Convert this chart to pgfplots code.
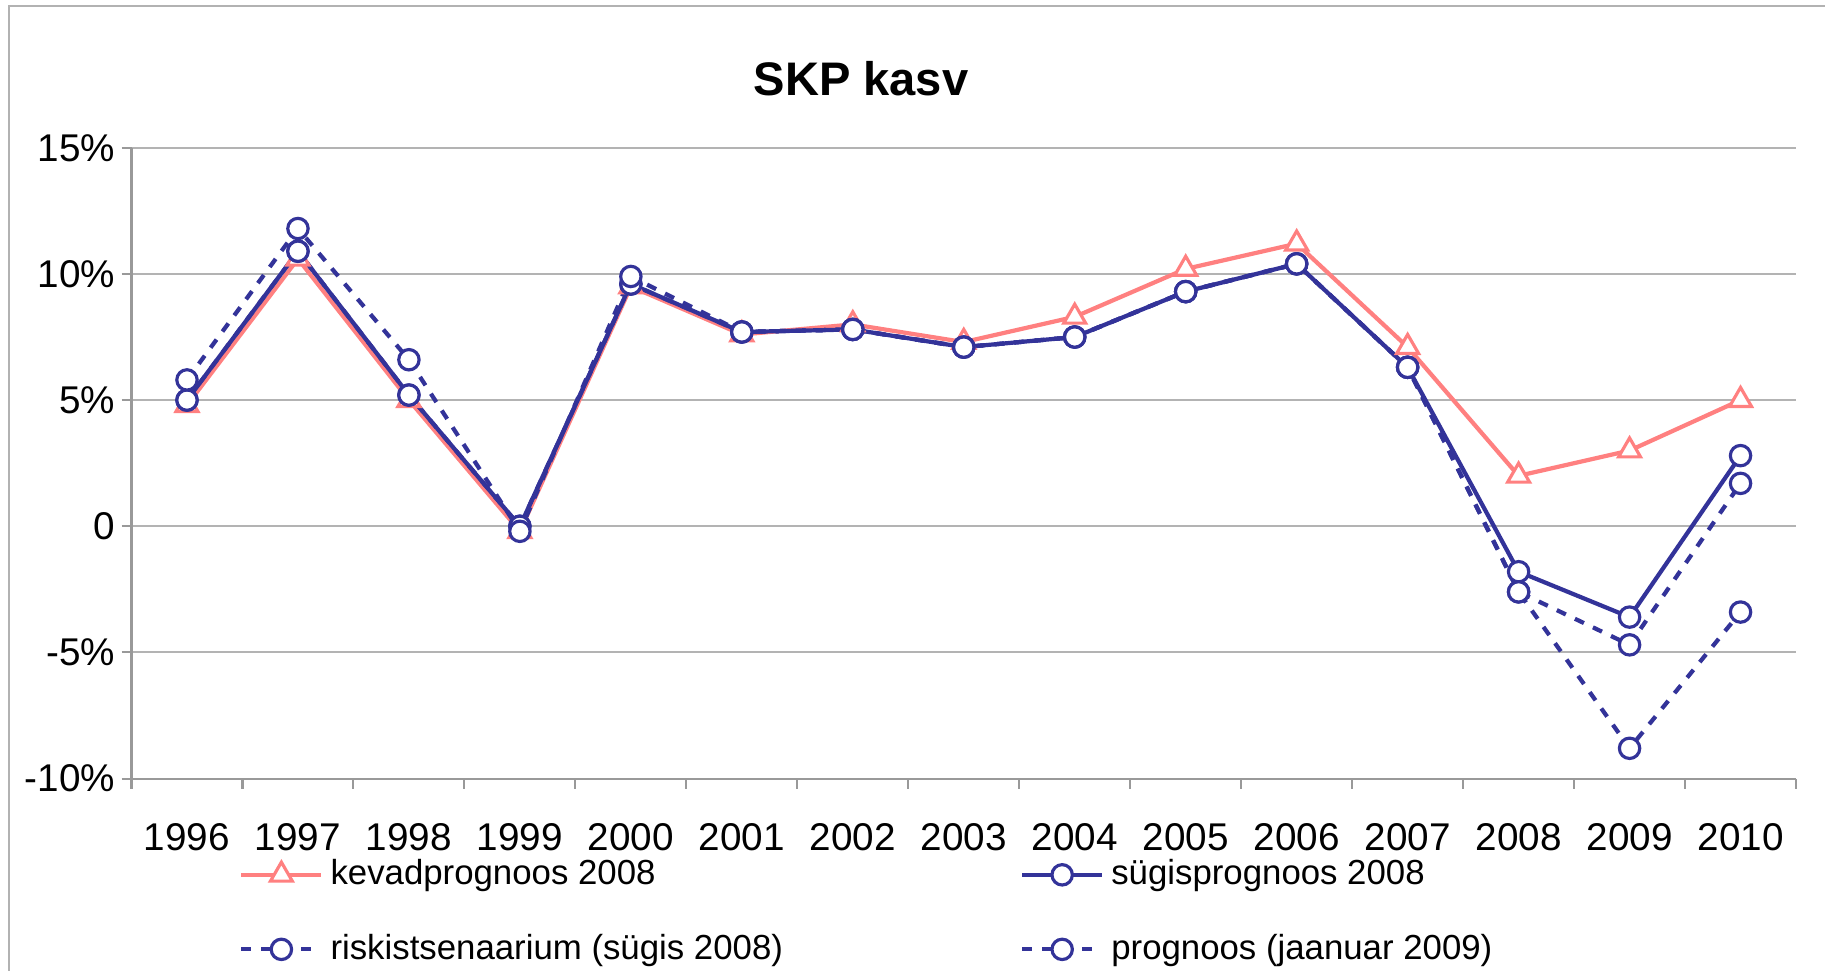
\documentclass[border=0pt]{standalone}
\usepackage{pgfplots}
\pgfplotsset{compat=1.18}
\usepackage{fontspec}
\setmainfont{Liberation Sans}
\definecolor{salmon}{HTML}{FF8080}
\definecolor{navy}{HTML}{333399}
\definecolor{gridgray}{HTML}{B3B3B3}
\begin{document}
\begin{tikzpicture}
\path[use as bounding box] (0,0) rectangle (18.25,9.71);
\draw[gray!60, line width=0.6pt] (0.093,0) -- (0.093,9.652) -- (18.25,9.652);
\node[font=\fontsize{13.4}{16}\selectfont\bfseries] at (8.61,8.92) {SKP kasv};
\begin{axis}[
  at={(1.315cm,1.924cm)}, anchor=south west,
  scale only axis, width=16.645cm, height=6.308cm,
  xmin=-0.5, xmax=14.5, ymin=-10, ymax=15,
  axis lines*=left, axis line style={-, draw=gray!80, line width=0.6pt},
  ymajorgrids, grid style={gridgray, line width=0.6pt},
  tick align=outside, major tick length=0.1cm,
  tick style={gray!80, line width=0.6pt},
  xtick={-0.5,0.5,...,14.5}, xticklabels={},
  extra x ticks={0,1,...,14},
  extra x tick labels={1996,1997,1998,1999,2000,2001,2002,2003,2004,2005,2006,2007,2008,2009,2010},
  extra x tick style={tick style={draw=none}, xticklabel style={yshift=-0.22cm}},
  ytick={-10,-5,0,5,10,15},
  yticklabels={-10\%,-5\%,0,5\%,10\%,15\%},
  yticklabel style={xshift=0.06cm},
  ticklabel style={font=\fontsize{11}{13}\selectfont},
  legend columns=2,
  legend style={at={(0.058,-0.105)}, anchor=north west, draw=none, fill=none,
    font=\fontsize{9.9}{12}\selectfont, row sep=0.3cm,
    /tikz/every even column/.append style={column sep=2.3cm},
    cells={anchor=west}},
  legend image code/.code={\draw[mark repeat=2,mark phase=2,#1] plot coordinates {(0cm,0cm) (0.4cm,0cm) (0.8cm,0cm)};},
]
\addplot[salmon, line width=1.2pt, mark=triangle*, mark size=3.6pt, mark options={fill=white, solid, line width=0.9pt}]
 coordinates {(0,4.8) (1,10.6) (2,5.0) (3,-0.2) (4,9.5) (5,7.6) (6,8.0) (7,7.3) (8,8.3) (9,10.2) (10,11.2) (11,7.1) (12,2.0) (13,3.0) (14,5.0)};
\addlegendentry{kevadprognoos 2008}
\addplot[navy, line width=1.2pt, mark=*, mark size=2.9pt, mark options={fill=white, solid, line width=0.9pt}]
 coordinates {(0,5.0) (1,10.9) (2,5.2) (3,0.0) (4,9.6) (5,7.7) (6,7.8) (7,7.1) (8,7.5) (9,9.3) (10,10.4) (11,6.3) (12,-1.8) (13,-3.6) (14,2.8)};
\addlegendentry{sügisprognoos 2008}
\addplot[navy, line width=1.2pt, dash pattern=on 0.1cm off 0.1cm, mark=*, mark size=2.9pt, mark options={fill=white, solid, line width=0.9pt}]
 coordinates {(0,5.0) (1,10.9) (2,5.2) (3,0.0) (4,9.6) (5,7.7) (6,7.8) (7,7.1) (8,7.5) (9,9.3) (10,10.4) (11,6.3) (12,-2.6) (13,-4.7) (14,1.7)};
\addlegendentry{riskistsenaarium (sügis 2008)}
\addplot[navy, line width=1.2pt, dash pattern=on 0.1cm off 0.1cm, mark=*, mark size=2.9pt, mark options={fill=white, solid, line width=0.9pt}]
 coordinates {(0,5.8) (1,11.8) (2,6.6) (3,-0.2) (4,9.9) (5,7.7) (6,7.8) (7,7.1) (8,7.5) (9,9.3) (10,10.4) (11,6.3) (12,-2.6) (13,-8.8) (14,-3.4)};
\addlegendentry{prognoos (jaanuar 2009)}
\end{axis}
\end{tikzpicture}
\end{document}
